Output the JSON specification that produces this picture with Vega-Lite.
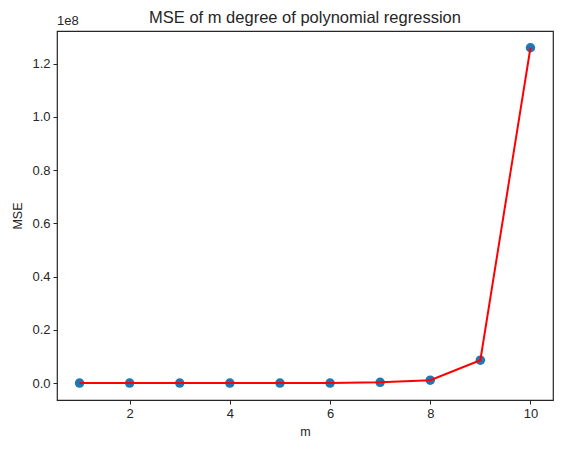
{
  "$schema": "https://vega.github.io/schema/vega-lite/v6.json",
  "autosize": {"type": "none"},
  "padding": {"left": 57, "top": 31, "right": 9, "bottom": 49},
  "width": 496,
  "height": 369,
  "background": "white",
  "title": {
    "text": "MSE of m degree of polynomial regression",
    "font": "Liberation Sans",
    "fontSize": 16.5,
    "fontWeight": "normal",
    "color": "#262626",
    "offset": -11
  },
  "config": {
    "view": {"stroke": "#262626", "strokeWidth": 1.2},
    "axis": {
      "grid": false,
      "domain": false,
      "tickColor": "#262626",
      "tickSize": 4,
      "labelPadding": 3,
      "labelFont": "Liberation Sans",
      "labelFontSize": 13,
      "labelColor": "#262626",
      "titleFont": "Liberation Sans",
      "titleFontSize": 12.5,
      "titleFontWeight": "normal",
      "titleColor": "#262626"
    }
  },
  "data": {
    "values": [
      {"m": 1, "MSE": 2000},
      {"m": 2, "MSE": 1500},
      {"m": 3, "MSE": 1200},
      {"m": 4, "MSE": 1000},
      {"m": 5, "MSE": 2000},
      {"m": 6, "MSE": 10000},
      {"m": 7, "MSE": 300000},
      {"m": 8, "MSE": 1100000},
      {"m": 9, "MSE": 8600000},
      {"m": 10, "MSE": 126000000}
    ]
  },
  "layer": [
    {
      "mark": {"type": "point", "filled": true, "shape": "circle", "size": 90, "color": "#1f77b4", "opacity": 1},
      "encoding": {
        "x": {
          "field": "m",
          "type": "quantitative",
          "title": "m",
          "scale": {"domain": [0.55, 10.45], "nice": false, "zero": false},
          "axis": {"values": [2, 4, 6, 8, 10], "titlePadding": 5}
        },
        "y": {
          "field": "MSE",
          "type": "quantitative",
          "title": "MSE",
          "scale": {"domain": [-6360000, 132300000], "nice": false, "zero": false},
          "axis": {
            "values": [0, 20000000, 40000000, 60000000, 80000000, 100000000, 120000000],
            "labelExpr": "format(datum.value / 1e8, '.1f')",
            "titlePadding": 7
          }
        }
      }
    },
    {
      "mark": {"type": "line", "color": "red", "strokeWidth": 2},
      "encoding": {
        "x": {"field": "m", "type": "quantitative"},
        "y": {"field": "MSE", "type": "quantitative"}
      }
    },
    {
      "transform": [{"filter": "datum.m == 10"}],
      "mark": {
        "type": "text",
        "text": "1e8",
        "align": "left",
        "baseline": "bottom",
        "dy": -3,
        "font": "Liberation Sans",
        "fontSize": 13,
        "fill": "#262626"
      },
      "encoding": {
        "x": {"datum": 0.55, "type": "quantitative"},
        "y": {"datum": 132300000, "type": "quantitative"}
      }
    }
  ]
}
